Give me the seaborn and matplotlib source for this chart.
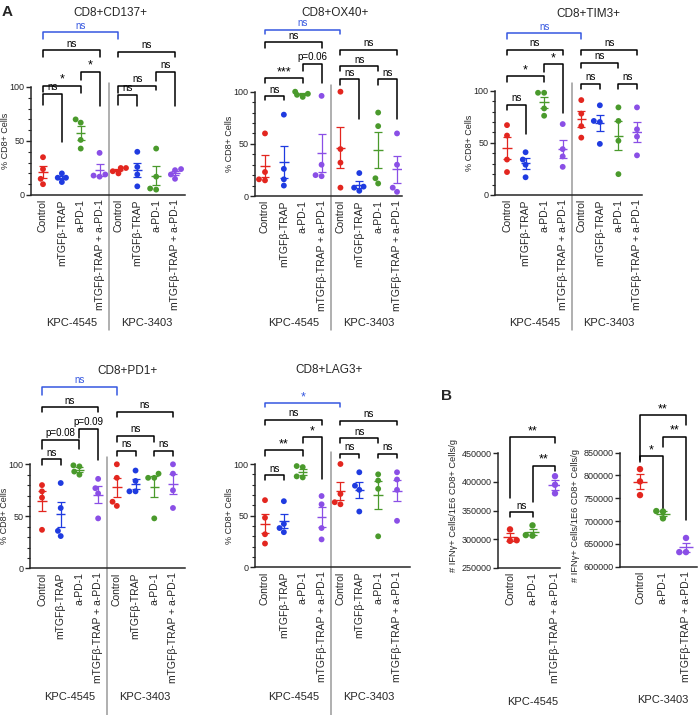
import pandas as pd
import seaborn as sns
import matplotlib.pyplot as plt
from matplotlib.transforms import blended_transform_factory

sns.set_style("ticks")
plt.rcParams['font.family'] = ['Liberation Sans', 'DejaVu Sans']

W, H = 700, 715

treatments = ["Control", "mTGFβ-TRAP", "a-PD-1", "mTGFβ-TRAP + a-PD-1"]
b_treatments = ["Control", "a-PD-1", "mTGFβ-TRAP + a-PD-1"]
cell_lines = ["KPC-4545", "KPC-3403"]

# % CD8+ cells, 4 mice per group: first 4 groups KPC-4545, last 4 KPC-3403
cd137 = [[35, 24, 15, 10], [20, 16, 16, 12], [70, 67, 51, 43], [39, 18, 17, 19],
         [25, 25, 20, 22], [40, 26, 19, 8], [43, 17, 6, 5], [24, 23, 19, 15]]
ox40 = [[60, 23, 16, 15], [78, 26, 16, 10], [100, 98, 97, 95], [96, 30, 19, 20],
        [100, 45, 32, 8], [22, 9, 8, 5], [80, 67, 17, 12], [60, 30, 8, 4]]
tim3 = [[67, 57, 34, 22], [41, 34, 29, 17], [98, 98, 83, 76], [68, 44, 37, 27],
        [91, 78, 66, 55], [86, 71, 70, 49], [84, 71, 52, 20], [84, 63, 56, 38]]
pd1 = [[80, 74, 68, 37], [82, 58, 36, 31], [99, 98, 93, 90], [86, 77, 72, 48],
       [100, 87, 64, 60], [94, 84, 74, 74], [91, 87, 87, 48], [100, 91, 75, 58]]
lag3 = [[65, 48, 32, 23], [64, 42, 38, 34], [98, 97, 88, 87], [69, 61, 38, 27],
        [100, 71, 63, 61], [92, 79, 75, 54], [90, 84, 76, 30], [92, 85, 75, 45]]

# IFNg+ cells / 1E6 CD8+ cells / g, 3 mice per group
ifng_4545 = [[317000, 298000, 297000], [324000, 307000, 306000], [410000, 395000, 380000]]
ifng_3403 = [[814000, 787000, 757000], [721000, 722000, 706000], [663000, 632000, 632000]]

# significance brackets: (group1, group2, height, left leg end, right leg end, label, blue?)
sig_cd137 = [(0, 4, 150.5, 144, 144, "ns", True), (0, 3, 134, 128, 128, "ns", False),
             (2, 3, 114, 106.5, 82, "*", False), (0, 2, 101, 95.7, 94, "*", False),
             (0, 1, 93.5, 83, 49, "ns", False), (4, 7, 132.7, 128, 128, "ns", False),
             (6, 7, 114, 106, 82, "ns", False), (4, 6, 101, 94, 97, "ns", False),
             (4, 5, 92.6, 83, 82, "ns", False)]
sig_ox40 = [(0, 4, 159.6, 155, 155, "ns", True), (0, 3, 147.4, 142, 142, "ns", False),
            (2, 3, 126.6, 119.5, 108, "p=0.06", False), (0, 2, 113, 108, 108, "***", False),
            (0, 1, 95.5, 91.6, 91.6, "ns", False), (4, 7, 140, 135.6, 135.6, "ns", False),
            (4, 6, 124.4, 119.5, 119.5, "ns", False), (4, 5, 112, 106.7, 73.7, "ns", False),
            (6, 7, 112, 106.7, 73.7, "ns", False)]
sig_tim3 = [(0, 4, 155, 150, 150, "ns", True), (0, 3, 139, 134, 134, "ns", False),
            (2, 3, 125.3, 118, 79, "*", False), (0, 2, 114, 108.6, 108.6, "*", False),
            (0, 1, 86.3, 81.5, 58.5, "ns", False), (4, 7, 139, 134, 134, "ns", False),
            (4, 6, 126.8, 121.5, 121.5, "ns", False), (4, 5, 106.4, 102, 102, "ns", False),
            (6, 7, 106.4, 102, 102, "ns", False)]
sig_pd1 = [(0, 4, 174.6, 166.6, 166.6, "ns", True), (0, 3, 154.8, 150, 150, "ns", False),
           (2, 3, 134, 125, 104, "p=0.09", False), (0, 2, 123.4, 114.4, 114.4, "p=0.08", False),
           (0, 1, 104.8, 99.3, 99.3, "ns", False), (4, 7, 150.6, 145.8, 145.8, "ns", False),
           (4, 6, 127.2, 121.8, 121.8, "ns", False), (4, 5, 112.8, 108, 108, "ns", False),
           (6, 7, 112.8, 108, 108, "ns", False)]
sig_lag3 = [(0, 4, 158.8, 154.9, 154.9, "*", True), (0, 3, 142.6, 137.8, 137.8, "ns", False),
            (2, 3, 125.8, 120, 85.5, "*", False), (0, 2, 113.5, 107.7, 107.7, "**", False),
            (0, 1, 89, 84.5, 84.5, "ns", False), (4, 7, 141.9, 137.8, 137.8, "ns", False),
            (4, 6, 124.9, 120, 120, "ns", False), (4, 5, 109.7, 105.5, 105.5, "ns", False),
            (6, 7, 109.7, 105.5, 105.5, "ns", False)]
sig_b4545 = [(0, 2, 478000, 371000, 467500, "**", False),
             (1, 2, 428000, 365000, 419600, "**", False),
             (0, 1, 347000, 339000, 339000, "ns", False)]
sig_b3403 = [(0, 2, 932700, 834000, 910800, "**", False),
             (1, 2, 885000, 862500, 702000, "**", False),
             (0, 1, 842800, 829600, 724000, "*", False)]

RED, BLUE, GREEN, PURPLE = "#e3261f", "#1f3be0", "#4a9a2c", "#8a4fe6"
SIG_BLUE = "#3557e0"
group_colors = [RED, BLUE, GREEN, PURPLE]
b_colors = [RED, GREEN, PURPLE]


def make_axes(fig, left, right, top, bottom):
    return fig.add_axes([left / W, 1 - bottom / H, (right - left) / W, (bottom - top) / H])


def draw_groups(ax, groups, names, colors, dot=4.2, half=0.25):
    df = pd.DataFrame([(n, v) for n, vals in zip(names, groups) for v in vals],
                      columns=["group", "value"])
    sns.swarmplot(data=df, x="group", y="value", hue="group", order=names,
                  hue_order=names, palette=colors, size=dot, legend=False,
                  linewidth=0, ax=ax, zorder=3)
    stats = df.groupby("group", sort=False)["value"].agg(["mean", "sem"])
    for i, name in enumerate(names):
        m, s = stats.loc[name, "mean"], stats.loc[name, "sem"]
        ax.hlines(m, i - half, i + half, color=colors[i], lw=1, zorder=2)
        ax.errorbar(i, m, yerr=s, fmt="none", ecolor=colors[i], capsize=2.8,
                    elinewidth=0.9, capthick=0.9, zorder=2)
    ax.set_xlabel("")
    ax.set_ylabel("")


def bracket(ax, x1, x2, y, y1, y2, label, blue):
    col = SIG_BLUE if blue else "black"
    ax.plot([x1, x1, x2, x2], [y1, y, y, y2], color=col, lw=1.1, clip_on=False)
    stars = set(label) == {"*"}
    ax.annotate(label, ((x1 + x2) / 2, y), xytext=(0, 0 if stars else 1.2),
                textcoords="offset points", ha="center", va="bottom",
                fontsize=9 if stars else 7, color=col, annotation_clip=False)


def style_axes(ax, ymin, ymax, yticks, minor, tick_fs):
    sns.despine(ax=ax)
    ax.spines["left"].set_bounds(ymin, ymax)
    ax.spines["left"].set_linewidth(1.1)
    ax.spines["bottom"].set_linewidth(1.1)
    ax.set_yticks(yticks)
    if minor is not None:
        ax.set_yticks(minor, minor=True)
    ax.tick_params(axis="y", which="major", length=3.5, width=1, labelsize=tick_fs, pad=1)
    ax.tick_params(axis="y", which="minor", length=2, width=0.8)
    ax.tick_params(axis="x", length=0, pad=3)


def panel_a(fig, groups, title, geom, title_xy, sigs, div_px, label_px):
    L, R, T, B, unit, x0, step = geom
    ax = make_axes(fig, L, R, T, B)
    names = [f"{t}|{c}" for c in cell_lines for t in treatments]
    draw_groups(ax, groups, names, group_colors * 2)
    top = (B - T) / unit
    ax.set_xlim((L - x0) / step, (R - x0) / step)
    ax.set_ylim(0, top)
    style_axes(ax, 0, 100, [0, 50, 100], range(0, 101, 10), 6.5)
    ax.set_xticks(range(8))
    ax.set_xticklabels(treatments * 2, rotation=90, fontsize=7.5)
    ax.set_ylabel("% CD8+ Cells", fontsize=6.5)
    ax.yaxis.set_label_coords(-21 / (R - L), 50 / top)
    ax.plot([3.5, 3.5], [(B - div_px[0]) / unit, (B - div_px[1]) / unit],
            color="#9a9a9a", lw=1.1, clip_on=False)
    for s in sigs:
        bracket(ax, *s)
    trans = blended_transform_factory(ax.transData, ax.transAxes)
    for xc, lab in zip([1.5, 5.5], cell_lines):
        ax.text(xc, (B - label_px) / (B - T), lab, transform=trans, ha="center",
                va="center", fontsize=8)
    fig.text(title_xy[0] / W, 1 - title_xy[1] / H, title, ha="center", va="center",
             fontsize=8.5)


def panel_b(fig, groups, line, geom, ylim_low, ytop_tick, sigs, ylab_xy, label_y):
    L, R, T, B, unit, x0, step = geom
    ax = make_axes(fig, L, R, T, B)
    names = [f"{t}|{line}" for t in b_treatments]
    draw_groups(ax, groups, names, b_colors, dot=4.6, half=0.3)
    ax.set_xlim((L - x0) / step, (R - x0) / step)
    ax.set_ylim(ylim_low, ylim_low + (B - T) / unit)
    style_axes(ax, ylim_low, ytop_tick, range(ylim_low, ytop_tick + 1, 50000), None, 6.5)
    ax.set_xticks(range(3))
    ax.set_xticklabels(b_treatments, rotation=90, fontsize=7.5)
    for s in sigs:
        bracket(ax, *s)
    trans = blended_transform_factory(ax.transData, ax.transAxes)
    ax.text(1, (B - label_y) / (B - T), line, transform=trans, ha="center", va="center",
            fontsize=8)
    fig.text(ylab_xy[0] / W, 1 - ylab_xy[1] / H, "# IFNγ+ Cells/1E6 CD8+ Cells/g",
             rotation=90, ha="center", va="center", fontsize=6.7)


fig = plt.figure(figsize=(7, 7.15), dpi=100)

panel_a(fig, cd137, "CD8+CD137+", (31, 185, 20, 195, 1.08, 43, 18.86), (110, 13),
        sig_cd137, (83, 330), 323)
panel_a(fig, ox40, "CD8+OX40+", (255, 402, 20, 196, 1.043, 265, 18.86), (335, 13),
        sig_ox40, (85, 330), 323)
panel_a(fig, tim3, "CD8+TIM3+", (495, 642, 20, 195, 1.043, 507, 18.57), (588, 14),
        sig_tim3, (83, 330), 323)
panel_a(fig, pd1, "CD8+PD1+", (30, 185, 380, 568.3, 1.04, 42, 18.71), (127, 371),
        sig_pd1, (457, 715), 697)
panel_a(fig, lag3, "CD8+LAG3+", (255, 410, 380, 567.3, 1.033, 265, 18.86), (329, 370),
        sig_lag3, (452, 715), 697)

panel_b(fig, ifng_4545, "KPC-4545", (498, 560, 415, 567.7, 0.572e-3, 510, 22.5),
        250000, 450000, sig_b4545, (454, 505), 702)
panel_b(fig, ifng_3403, "KPC-3403", (620, 697, 395, 566.7, 0.456e-3, 640, 23),
        600000, 850000, sig_b3403, (576, 515), 700)

fig.text(7 / W, 1 - 12 / H, "A", fontsize=11, fontweight="bold", ha="center", va="center")
fig.text(447 / W, 1 - 396 / H, "B", fontsize=11, fontweight="bold", ha="center", va="center")

fig.savefig("out.png", dpi=100)
